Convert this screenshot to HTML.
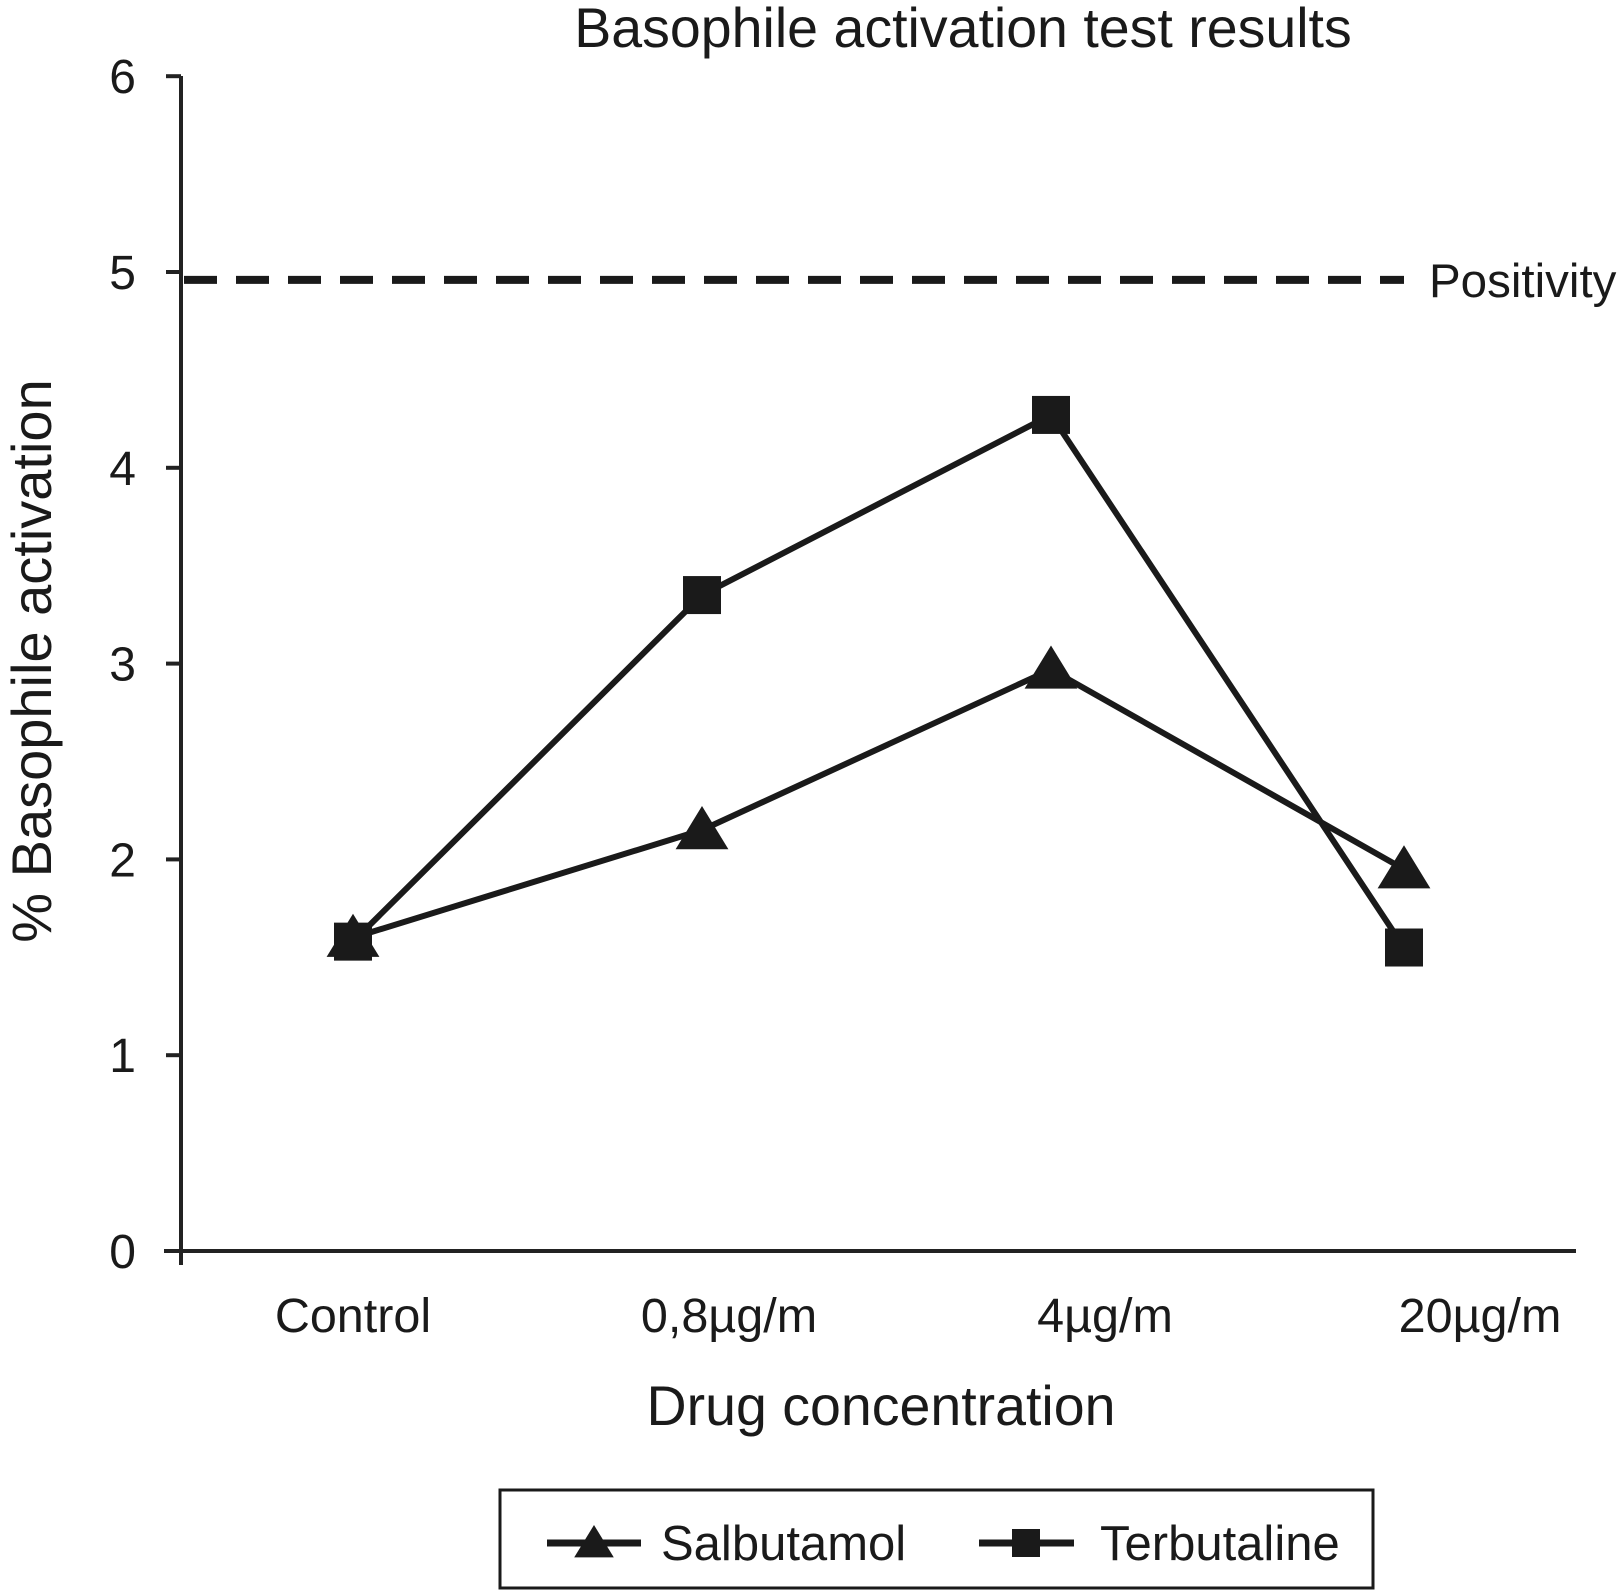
<!DOCTYPE html>
<html><head><meta charset="utf-8"><style>body{margin:0;background:#fff}svg{display:block}text{font-family:"Liberation Sans",sans-serif;fill:#1a1a1a}</style></head>
<body>
<svg width="1619" height="1591" viewBox="0 0 1619 1591">
<g id="g"></g>
</svg>
<script>
const categories=["Control","0,8µg/m","4µg/m","20µg/m"];
const salbutamol=[1.6,2.15,2.97,1.95];
const terbutaline=[1.58,3.35,4.27,1.55];
const yTicks=[0,1,2,3,4,5,6];
const positivity=4.96;
const catX=[353,702,1051,1404];
const labelX=[353,729,1105,1480];
const y=v=>1251-v*195.8;
const ns="http://www.w3.org/2000/svg";
const g=document.getElementById('g');
function el(t,a,txt){const e=document.createElementNS(ns,t);for(const k in a)e.setAttribute(k,a[k]);if(txt!=null)e.textContent=txt;g.appendChild(e);return e;}
let e;
e=el('text',{x:963,y:47,'font-size':55.5,'text-anchor':'middle'},'Basophile activation test results');

e=el('line',{x1:181,y1:76,x2:181,y2:1265,stroke:'#222','stroke-width':4});

e=el('line',{x1:164,y1:1251,x2:1576,y2:1251,stroke:'#222','stroke-width':4});

yTicks.forEach(t=>{
 const tk=el('line',{x1:166,y1:y(t),x2:181,y2:y(t),stroke:'#222','stroke-width':4});
 
 const tl=el('text',{x:136,y:y(t)+17,'font-size':48,'text-anchor':'end'},t);
 
});
categories.forEach((c,i)=>{
 const tl=el('text',{x:labelX[i],y:1332,'font-size':48.5,'text-anchor':'middle'},c);
 
});
e=el('text',{x:881,y:1425,'font-size':55.5,'text-anchor':'middle'},'Drug concentration');

e=el('text',{x:0,y:0,'font-size':56,'text-anchor':'middle',transform:'translate(51,661) rotate(-90)'},'% Basophile activation');

e=el('line',{x1:184,y1:y(positivity),x2:1404,y2:y(positivity),stroke:'#1a1a1a','stroke-width':8,'stroke-dasharray':'33 19'});

e=el('text',{x:1429,y:y(positivity)+17,'font-size':47.5},'Positivity');

function pts(arr){return arr.map((v,i)=>catX[i]+','+y(v)).join(' ');}
e=el('polyline',{points:pts(salbutamol),fill:'none',stroke:'#1a1a1a','stroke-width':6});

e=el('polyline',{points:pts(terbutaline),fill:'none',stroke:'#1a1a1a','stroke-width':6});

function tri(cx,cy,s){return `${cx},${cy-s} ${cx-s*1.1},${cy+s*0.8} ${cx+s*1.1},${cy+s*0.8}`;}
salbutamol.forEach((v,i)=>{
 const m=el('polygon',{points:tri(catX[i],y(v),24),fill:'#1a1a1a'});
 
});
terbutaline.forEach((v,i)=>{
 const m=el('rect',{x:catX[i]-19,y:y(v)-19,width:38,height:38,fill:'#1a1a1a'});
 
});
e=el('rect',{x:500,y:1490,width:873,height:98,fill:'none',stroke:'#1a1a1a','stroke-width':3});

e=el('line',{x1:547,y1:1543,x2:641,y2:1543,stroke:'#1a1a1a','stroke-width':7});

e=el('polygon',{points:tri(594,1543,18),fill:'#1a1a1a'});

e=el('text',{x:661,y:1560,'font-size':49},'Salbutamol');

e=el('line',{x1:979,y1:1543,x2:1074,y2:1543,stroke:'#1a1a1a','stroke-width':7});

e=el('rect',{x:1012,y:1529,width:28,height:28,fill:'#1a1a1a'});

e=el('text',{x:1100,y:1560,'font-size':49},'Terbutaline');

</script>
</body></html>
